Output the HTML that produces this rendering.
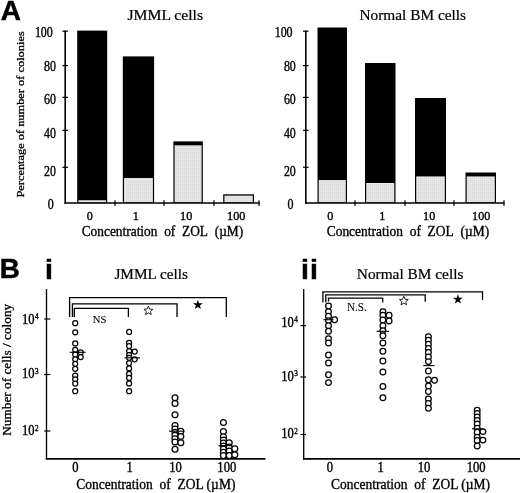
<!DOCTYPE html>
<html><head><meta charset="utf-8"><title>Figure</title>
<style>html,body{margin:0;padding:0;background:#fff;}svg{display:block;}</style></head><body>
<svg width="520" height="493" viewBox="0 0 520 493">
<defs><pattern id="dots" width="2" height="2" patternUnits="userSpaceOnUse"><rect width="2" height="2" fill="#e6e6e6"/><rect width="1" height="1" fill="#d6d6d6"/></pattern></defs>
<rect width="520" height="493" fill="#fff"/>
<text x="0.7" y="19.8" font-size="27.8" text-anchor="start" font-family='"Liberation Sans", sans-serif' font-weight="bold" textLength="20.2" lengthAdjust="spacingAndGlyphs" stroke="#000" stroke-width="0.5" >A</text>
<text transform="translate(23.7,197.6) rotate(-90)" font-size="11.3" font-family='"Liberation Serif", serif' textLength="166.3" lengthAdjust="spacingAndGlyphs" stroke="#000" stroke-width="0.3">Percentage of number of colonies</text>
<rect x="77.2" y="30.6" width="30.0" height="172.4" fill="#000"/>
<rect x="78.4" y="200.3" width="27.6" height="2.1" fill="#f4f4f4"/>
<rect x="122.8" y="56.4" width="31.3" height="146.6" fill="#000"/>
<rect x="124.0" y="178" width="28.9" height="24.4" fill="url(#dots)"/>
<rect x="173.4" y="141.4" width="29.4" height="61.6" fill="#000"/>
<rect x="174.6" y="145.3" width="27.0" height="57.1" fill="url(#dots)"/>
<rect x="223.2" y="194.3" width="30.8" height="8.7" fill="#000"/>
<rect x="224.4" y="195.6" width="28.4" height="6.8" fill="url(#dots)"/>
<line x1="65.2" y1="30.6" x2="65.2" y2="203.8" stroke="#000" stroke-width="1.6"/>
<line x1="64.4" y1="203" x2="259.8" y2="203" stroke="#000" stroke-width="1.7"/>
<line x1="62.400000000000006" y1="31.2" x2="68.0" y2="31.2" stroke="#000" stroke-width="1.2"/>
<line x1="62.400000000000006" y1="65.6" x2="68.0" y2="65.6" stroke="#000" stroke-width="1.2"/>
<line x1="62.400000000000006" y1="97.4" x2="68.0" y2="97.4" stroke="#000" stroke-width="1.2"/>
<line x1="62.400000000000006" y1="130.3" x2="68.0" y2="130.3" stroke="#000" stroke-width="1.2"/>
<line x1="62.400000000000006" y1="167.3" x2="68.0" y2="167.3" stroke="#000" stroke-width="1.2"/>
<line x1="115" y1="200.3" x2="115" y2="206" stroke="#000" stroke-width="1.2"/>
<line x1="164" y1="200.3" x2="164" y2="206" stroke="#000" stroke-width="1.2"/>
<line x1="214" y1="200.3" x2="214" y2="206" stroke="#000" stroke-width="1.2"/>
<line x1="259" y1="200.3" x2="259" y2="206" stroke="#000" stroke-width="1.2"/>
<text x="52.8" y="36.6" font-size="14" text-anchor="end" font-family='"Liberation Serif", serif' font-weight="normal" textLength="17.9" lengthAdjust="spacingAndGlyphs" stroke="#000" stroke-width="0.38" >100</text>
<text x="56.0" y="71.0" font-size="14" text-anchor="end" font-family='"Liberation Serif", serif' font-weight="normal" textLength="11.9" lengthAdjust="spacingAndGlyphs" stroke="#000" stroke-width="0.38" >80</text>
<text x="56.0" y="103.8" font-size="14" text-anchor="end" font-family='"Liberation Serif", serif' font-weight="normal" textLength="11.9" lengthAdjust="spacingAndGlyphs" stroke="#000" stroke-width="0.38" >60</text>
<text x="56.0" y="137.9" font-size="14" text-anchor="end" font-family='"Liberation Serif", serif' font-weight="normal" textLength="11.9" lengthAdjust="spacingAndGlyphs" stroke="#000" stroke-width="0.38" >40</text>
<text x="56.0" y="175.7" font-size="14" text-anchor="end" font-family='"Liberation Serif", serif' font-weight="normal" textLength="11.9" lengthAdjust="spacingAndGlyphs" stroke="#000" stroke-width="0.38" >20</text>
<text x="53.8" y="209.1" font-size="14" text-anchor="end" font-family='"Liberation Serif", serif' font-weight="normal" textLength="6.0" lengthAdjust="spacingAndGlyphs" stroke="#000" stroke-width="0.38" >0</text>
<text x="89.8" y="220.4" font-size="13.2" text-anchor="middle" font-family='"Liberation Serif", serif' font-weight="normal" textLength="6.1" lengthAdjust="spacingAndGlyphs" stroke="#000" stroke-width="0.38" >0</text>
<text x="135.7" y="220.4" font-size="13.2" text-anchor="middle" font-family='"Liberation Serif", serif' font-weight="normal" textLength="6.1" lengthAdjust="spacingAndGlyphs" stroke="#000" stroke-width="0.38" >1</text>
<text x="186.2" y="220.4" font-size="13.2" text-anchor="middle" font-family='"Liberation Serif", serif' font-weight="normal" textLength="12.2" lengthAdjust="spacingAndGlyphs" stroke="#000" stroke-width="0.38" >10</text>
<text x="236.2" y="220.4" font-size="13.2" text-anchor="middle" font-family='"Liberation Serif", serif' font-weight="normal" textLength="18.3" lengthAdjust="spacingAndGlyphs" stroke="#000" stroke-width="0.38" >100</text>
<text x="81.7" y="236.2" font-size="13.6" text-anchor="start" font-family='"Liberation Serif", serif' font-weight="normal" textLength="161.5" lengthAdjust="spacingAndGlyphs" stroke="#000" stroke-width="0.33" >Concentration&#160; of&#160; ZOL&#160; (µM)</text>
<text x="127.5" y="19.8" font-size="15.5" text-anchor="start" font-family='"Liberation Serif", serif' font-weight="normal" textLength="75.5" lengthAdjust="spacingAndGlyphs" stroke="#000" stroke-width="0.22" >JMML cells</text>
<rect x="317.5" y="27.5" width="29.5" height="175.5" fill="#000"/>
<rect x="318.7" y="180" width="27.1" height="22.4" fill="url(#dots)"/>
<rect x="365" y="63" width="30.5" height="140" fill="#000"/>
<rect x="366.2" y="183" width="28.1" height="19.4" fill="url(#dots)"/>
<rect x="415" y="98" width="31" height="105" fill="#000"/>
<rect x="416.2" y="176.4" width="28.6" height="26.0" fill="url(#dots)"/>
<rect x="465.5" y="172.5" width="30.5" height="30.5" fill="#000"/>
<rect x="466.7" y="176.4" width="28.1" height="26.0" fill="url(#dots)"/>
<line x1="305.8" y1="30.6" x2="305.8" y2="203.8" stroke="#000" stroke-width="1.6"/>
<line x1="305.0" y1="203" x2="504.5" y2="203" stroke="#000" stroke-width="1.7"/>
<line x1="303.0" y1="31.2" x2="308.6" y2="31.2" stroke="#000" stroke-width="1.2"/>
<line x1="303.0" y1="65.6" x2="308.6" y2="65.6" stroke="#000" stroke-width="1.2"/>
<line x1="303.0" y1="97.4" x2="308.6" y2="97.4" stroke="#000" stroke-width="1.2"/>
<line x1="303.0" y1="130.3" x2="308.6" y2="130.3" stroke="#000" stroke-width="1.2"/>
<line x1="303.0" y1="167.3" x2="308.6" y2="167.3" stroke="#000" stroke-width="1.2"/>
<line x1="355" y1="200.3" x2="355" y2="206" stroke="#000" stroke-width="1.2"/>
<line x1="405" y1="200.3" x2="405" y2="206" stroke="#000" stroke-width="1.2"/>
<line x1="454" y1="200.3" x2="454" y2="206" stroke="#000" stroke-width="1.2"/>
<line x1="504" y1="200.3" x2="504" y2="206" stroke="#000" stroke-width="1.2"/>
<text x="292.6" y="36.6" font-size="14" text-anchor="end" font-family='"Liberation Serif", serif' font-weight="normal" textLength="17.9" lengthAdjust="spacingAndGlyphs" stroke="#000" stroke-width="0.38" >100</text>
<text x="295.8" y="71.0" font-size="14" text-anchor="end" font-family='"Liberation Serif", serif' font-weight="normal" textLength="11.9" lengthAdjust="spacingAndGlyphs" stroke="#000" stroke-width="0.38" >80</text>
<text x="295.8" y="103.8" font-size="14" text-anchor="end" font-family='"Liberation Serif", serif' font-weight="normal" textLength="11.9" lengthAdjust="spacingAndGlyphs" stroke="#000" stroke-width="0.38" >60</text>
<text x="295.8" y="137.9" font-size="14" text-anchor="end" font-family='"Liberation Serif", serif' font-weight="normal" textLength="11.9" lengthAdjust="spacingAndGlyphs" stroke="#000" stroke-width="0.38" >40</text>
<text x="295.8" y="175.7" font-size="14" text-anchor="end" font-family='"Liberation Serif", serif' font-weight="normal" textLength="11.9" lengthAdjust="spacingAndGlyphs" stroke="#000" stroke-width="0.38" >20</text>
<text x="293.6" y="209.1" font-size="14" text-anchor="end" font-family='"Liberation Serif", serif' font-weight="normal" textLength="6.0" lengthAdjust="spacingAndGlyphs" stroke="#000" stroke-width="0.38" >0</text>
<text x="330.2" y="220.4" font-size="13.2" text-anchor="middle" font-family='"Liberation Serif", serif' font-weight="normal" textLength="6.1" lengthAdjust="spacingAndGlyphs" stroke="#000" stroke-width="0.38" >0</text>
<text x="382.2" y="220.4" font-size="13.2" text-anchor="middle" font-family='"Liberation Serif", serif' font-weight="normal" textLength="6.1" lengthAdjust="spacingAndGlyphs" stroke="#000" stroke-width="0.38" >1</text>
<text x="429.2" y="220.4" font-size="13.2" text-anchor="middle" font-family='"Liberation Serif", serif' font-weight="normal" textLength="12.2" lengthAdjust="spacingAndGlyphs" stroke="#000" stroke-width="0.38" >10</text>
<text x="481.2" y="220.4" font-size="13.2" text-anchor="middle" font-family='"Liberation Serif", serif' font-weight="normal" textLength="18.3" lengthAdjust="spacingAndGlyphs" stroke="#000" stroke-width="0.38" >100</text>
<text x="326.7" y="236.2" font-size="13.6" text-anchor="start" font-family='"Liberation Serif", serif' font-weight="normal" textLength="162.5" lengthAdjust="spacingAndGlyphs" stroke="#000" stroke-width="0.33" >Concentration&#160; of&#160; ZOL&#160; (µM)</text>
<text x="359.5" y="19.8" font-size="15.5" text-anchor="start" font-family='"Liberation Serif", serif' font-weight="normal" textLength="106.5" lengthAdjust="spacingAndGlyphs" stroke="#000" stroke-width="0.22" >Normal BM cells</text>
<text x="-0.2" y="278" font-size="27.8" text-anchor="start" font-family='"Liberation Sans", sans-serif' font-weight="bold" stroke="#000" stroke-width="0.5" >B</text>
<text x="44.9" y="278.7" font-size="28.5" text-anchor="start" font-family='"Liberation Sans", sans-serif' font-weight="bold" stroke="#000" stroke-width="0.5" >i</text>
<text x="301.1" y="278.7" font-size="28.5" text-anchor="start" font-family='"Liberation Sans", sans-serif' font-weight="bold" stroke="#000" stroke-width="0.5" letter-spacing="1.0">ii</text>
<text transform="translate(10.6,435.8) rotate(-90)" font-size="12" font-family='"Liberation Serif", serif' textLength="132" lengthAdjust="spacingAndGlyphs" stroke="#000" stroke-width="0.3">Number of cells / colony</text>
<line x1="46.5" y1="289" x2="46.5" y2="459.6" stroke="#000" stroke-width="1.35"/>
<line x1="45.8" y1="458.8" x2="265.5" y2="458.8" stroke="#000" stroke-width="1.7"/>
<line x1="44.2" y1="319" x2="50.3" y2="319" stroke="#000" stroke-width="1.2"/>
<line x1="44.2" y1="374.5" x2="50.3" y2="374.5" stroke="#000" stroke-width="1.2"/>
<line x1="44.2" y1="431" x2="50.3" y2="431" stroke="#000" stroke-width="1.2"/>
<text x="34.6" y="323.6" font-size="14" text-anchor="end" font-family='"Liberation Serif", serif' font-weight="normal" textLength="12.6" lengthAdjust="spacingAndGlyphs" stroke="#000" stroke-width="0.38" >10</text>
<text x="34.900000000000006" y="319.3" font-size="8.6" text-anchor="start" font-family='"Liberation Serif", serif' font-weight="normal" textLength="3.6" lengthAdjust="spacingAndGlyphs" stroke="#000" stroke-width="0.38" >4</text>
<text x="34.6" y="378.1" font-size="14" text-anchor="end" font-family='"Liberation Serif", serif' font-weight="normal" textLength="12.6" lengthAdjust="spacingAndGlyphs" stroke="#000" stroke-width="0.38" >10</text>
<text x="34.900000000000006" y="373.8" font-size="8.6" text-anchor="start" font-family='"Liberation Serif", serif' font-weight="normal" textLength="3.6" lengthAdjust="spacingAndGlyphs" stroke="#000" stroke-width="0.38" >3</text>
<text x="34.6" y="435.3" font-size="14" text-anchor="end" font-family='"Liberation Serif", serif' font-weight="normal" textLength="12.6" lengthAdjust="spacingAndGlyphs" stroke="#000" stroke-width="0.38" >10</text>
<text x="34.900000000000006" y="431.0" font-size="8.6" text-anchor="start" font-family='"Liberation Serif", serif' font-weight="normal" textLength="3.6" lengthAdjust="spacingAndGlyphs" stroke="#000" stroke-width="0.38" >2</text>
<text x="75.3" y="472.2" font-size="14" text-anchor="middle" font-family='"Liberation Serif", serif' font-weight="normal" textLength="6.3" lengthAdjust="spacingAndGlyphs" stroke="#000" stroke-width="0.38" >0</text>
<text x="129.6" y="472.2" font-size="14" text-anchor="middle" font-family='"Liberation Serif", serif' font-weight="normal" textLength="6.3" lengthAdjust="spacingAndGlyphs" stroke="#000" stroke-width="0.38" >1</text>
<text x="175.5" y="472.2" font-size="14" text-anchor="middle" font-family='"Liberation Serif", serif' font-weight="normal" textLength="12.6" lengthAdjust="spacingAndGlyphs" stroke="#000" stroke-width="0.38" >10</text>
<text x="226.8" y="472.2" font-size="14" text-anchor="middle" font-family='"Liberation Serif", serif' font-weight="normal" textLength="18.9" lengthAdjust="spacingAndGlyphs" stroke="#000" stroke-width="0.38" >100</text>
<text x="76.2" y="488.8" font-size="13.6" text-anchor="start" font-family='"Liberation Serif", serif' font-weight="normal" textLength="159.2" lengthAdjust="spacingAndGlyphs" stroke="#000" stroke-width="0.33" >Concentration&#160; of&#160; ZOL (µM)</text>
<text x="114.4" y="278.7" font-size="15.5" text-anchor="start" font-family='"Liberation Serif", serif' font-weight="normal" textLength="73.6" lengthAdjust="spacingAndGlyphs" stroke="#000" stroke-width="0.22" >JMML cells</text>
<polyline points="69.6,317 69.6,297.7 226.3,297.7 226.3,317" fill="none" stroke="#000" stroke-width="1.3"/>
<polyline points="72.4,317 72.4,303.8 177,303.8 177,317" fill="none" stroke="#000" stroke-width="1.3"/>
<polyline points="74.3,317 74.3,308.4 128.4,308.4 128.4,317" fill="none" stroke="#000" stroke-width="1.3"/>
<text x="99.6" y="322.5" font-size="11" text-anchor="middle" font-family='"Liberation Serif", serif' font-weight="normal" textLength="13.6" lengthAdjust="spacingAndGlyphs" stroke="#000" stroke-width="0.1" >NS</text>
<polygon points="148.40,306.10 149.67,309.05 152.87,309.35 150.46,311.47 151.16,314.60 148.40,312.96 145.64,314.60 146.34,311.47 143.93,309.35 147.13,309.05" fill="#fff" stroke="#000" stroke-width="0.85"/>
<polygon points="197.90,299.70 199.12,303.22 202.85,303.29 199.88,305.54 200.96,309.11 197.90,306.98 194.84,309.11 195.92,305.54 192.95,303.29 196.68,303.22" fill="#000"/>
<circle cx="75.2" cy="323.2" r="2.5" fill="#fff" stroke="#000" stroke-width="1.25"/>
<circle cx="75.2" cy="332.3" r="2.5" fill="#fff" stroke="#000" stroke-width="1.25"/>
<circle cx="75.2" cy="343.4" r="2.5" fill="#fff" stroke="#000" stroke-width="1.25"/>
<circle cx="75.2" cy="349.8" r="2.5" fill="#fff" stroke="#000" stroke-width="1.25"/>
<circle cx="75.2" cy="354.7" r="2.5" fill="#fff" stroke="#000" stroke-width="1.25"/>
<circle cx="75.2" cy="359.3" r="2.5" fill="#fff" stroke="#000" stroke-width="1.25"/>
<circle cx="75.2" cy="363.8" r="2.5" fill="#fff" stroke="#000" stroke-width="1.25"/>
<circle cx="75.2" cy="368.8" r="2.5" fill="#fff" stroke="#000" stroke-width="1.25"/>
<circle cx="75.2" cy="375.7" r="2.5" fill="#fff" stroke="#000" stroke-width="1.25"/>
<circle cx="75.2" cy="379.3" r="2.5" fill="#fff" stroke="#000" stroke-width="1.25"/>
<circle cx="75.2" cy="383.5" r="2.5" fill="#fff" stroke="#000" stroke-width="1.25"/>
<circle cx="75.2" cy="391.2" r="2.5" fill="#fff" stroke="#000" stroke-width="1.25"/>
<circle cx="80.7" cy="352.3" r="2.5" fill="#fff" stroke="#000" stroke-width="1.25"/>
<circle cx="80.7" cy="357" r="2.5" fill="#fff" stroke="#000" stroke-width="1.25"/>
<circle cx="129.1" cy="331.9" r="2.5" fill="#fff" stroke="#000" stroke-width="1.25"/>
<circle cx="129.1" cy="342.8" r="2.5" fill="#fff" stroke="#000" stroke-width="1.25"/>
<circle cx="129.1" cy="346" r="2.5" fill="#fff" stroke="#000" stroke-width="1.25"/>
<circle cx="129.1" cy="351" r="2.5" fill="#fff" stroke="#000" stroke-width="1.25"/>
<circle cx="129.1" cy="355" r="2.5" fill="#fff" stroke="#000" stroke-width="1.25"/>
<circle cx="129.1" cy="357.8" r="2.5" fill="#fff" stroke="#000" stroke-width="1.25"/>
<circle cx="129.1" cy="363" r="2.5" fill="#fff" stroke="#000" stroke-width="1.25"/>
<circle cx="129.1" cy="368.4" r="2.5" fill="#fff" stroke="#000" stroke-width="1.25"/>
<circle cx="129.1" cy="373.9" r="2.5" fill="#fff" stroke="#000" stroke-width="1.25"/>
<circle cx="129.1" cy="377.9" r="2.5" fill="#fff" stroke="#000" stroke-width="1.25"/>
<circle cx="129.1" cy="383.4" r="2.5" fill="#fff" stroke="#000" stroke-width="1.25"/>
<circle cx="129.1" cy="391.2" r="2.5" fill="#fff" stroke="#000" stroke-width="1.25"/>
<circle cx="134.7" cy="351.6" r="2.5" fill="#fff" stroke="#000" stroke-width="1.25"/>
<circle cx="134.7" cy="359.3" r="2.5" fill="#fff" stroke="#000" stroke-width="1.25"/>
<circle cx="175" cy="397.8" r="2.95" fill="#fff" stroke="#000" stroke-width="1.25"/>
<circle cx="175" cy="403.5" r="2.95" fill="#fff" stroke="#000" stroke-width="1.25"/>
<circle cx="175" cy="414.7" r="2.95" fill="#fff" stroke="#000" stroke-width="1.25"/>
<circle cx="175" cy="425.5" r="2.95" fill="#fff" stroke="#000" stroke-width="1.25"/>
<circle cx="175" cy="429" r="2.95" fill="#fff" stroke="#000" stroke-width="1.25"/>
<circle cx="175" cy="432.2" r="2.95" fill="#fff" stroke="#000" stroke-width="1.25"/>
<circle cx="175" cy="435.4" r="2.95" fill="#fff" stroke="#000" stroke-width="1.25"/>
<circle cx="175" cy="438.8" r="2.95" fill="#fff" stroke="#000" stroke-width="1.25"/>
<circle cx="175" cy="442" r="2.95" fill="#fff" stroke="#000" stroke-width="1.25"/>
<circle cx="175" cy="449.2" r="2.95" fill="#fff" stroke="#000" stroke-width="1.25"/>
<circle cx="180.8" cy="431.2" r="2.95" fill="#fff" stroke="#000" stroke-width="1.25"/>
<circle cx="180.8" cy="436.5" r="2.95" fill="#fff" stroke="#000" stroke-width="1.25"/>
<circle cx="180.8" cy="442.8" r="2.95" fill="#fff" stroke="#000" stroke-width="1.25"/>
<circle cx="223.4" cy="422.5" r="2.95" fill="#fff" stroke="#000" stroke-width="1.25"/>
<circle cx="223.4" cy="431.5" r="2.95" fill="#fff" stroke="#000" stroke-width="1.25"/>
<circle cx="223.4" cy="436.7" r="2.95" fill="#fff" stroke="#000" stroke-width="1.25"/>
<circle cx="223.4" cy="440" r="2.95" fill="#fff" stroke="#000" stroke-width="1.25"/>
<circle cx="223.4" cy="443" r="2.95" fill="#fff" stroke="#000" stroke-width="1.25"/>
<circle cx="223.4" cy="446" r="2.95" fill="#fff" stroke="#000" stroke-width="1.25"/>
<circle cx="223.4" cy="449" r="2.95" fill="#fff" stroke="#000" stroke-width="1.25"/>
<circle cx="223.4" cy="452.4" r="2.95" fill="#fff" stroke="#000" stroke-width="1.25"/>
<circle cx="223.4" cy="455.6" r="2.95" fill="#fff" stroke="#000" stroke-width="1.25"/>
<circle cx="229.2" cy="442.8" r="2.95" fill="#fff" stroke="#000" stroke-width="1.25"/>
<circle cx="229.2" cy="447" r="2.95" fill="#fff" stroke="#000" stroke-width="1.25"/>
<circle cx="229.2" cy="451" r="2.95" fill="#fff" stroke="#000" stroke-width="1.25"/>
<circle cx="229.2" cy="455.6" r="2.95" fill="#fff" stroke="#000" stroke-width="1.25"/>
<circle cx="234.8" cy="448.8" r="2.95" fill="#fff" stroke="#000" stroke-width="1.25"/>
<circle cx="234.8" cy="454.8" r="2.95" fill="#fff" stroke="#000" stroke-width="1.25"/>
<line x1="69.7" y1="352.3" x2="85.6" y2="352.3" stroke="#000" stroke-width="1.1"/>
<line x1="124.6" y1="357.8" x2="140" y2="357.8" stroke="#000" stroke-width="1.1"/>
<line x1="169" y1="431.2" x2="184.5" y2="431.2" stroke="#000" stroke-width="1.1"/>
<line x1="218.5" y1="445.6" x2="232" y2="445.6" stroke="#000" stroke-width="1.1"/>
<line x1="303.7" y1="289" x2="303.7" y2="459.6" stroke="#000" stroke-width="1.35"/>
<line x1="303.0" y1="458.8" x2="520" y2="458.8" stroke="#000" stroke-width="1.7"/>
<line x1="300.4" y1="325.7" x2="306.0" y2="325.7" stroke="#000" stroke-width="1.2"/>
<line x1="300.4" y1="377" x2="306.0" y2="377" stroke="#000" stroke-width="1.2"/>
<line x1="300.4" y1="434.5" x2="306.0" y2="434.5" stroke="#000" stroke-width="1.2"/>
<text x="293.9" y="326.6" font-size="14" text-anchor="end" font-family='"Liberation Serif", serif' font-weight="normal" textLength="12.6" lengthAdjust="spacingAndGlyphs" stroke="#000" stroke-width="0.38" >10</text>
<text x="294.2" y="322.3" font-size="8.6" text-anchor="start" font-family='"Liberation Serif", serif' font-weight="normal" textLength="3.6" lengthAdjust="spacingAndGlyphs" stroke="#000" stroke-width="0.38" >4</text>
<text x="293.9" y="380.6" font-size="14" text-anchor="end" font-family='"Liberation Serif", serif' font-weight="normal" textLength="12.6" lengthAdjust="spacingAndGlyphs" stroke="#000" stroke-width="0.38" >10</text>
<text x="294.2" y="376.3" font-size="8.6" text-anchor="start" font-family='"Liberation Serif", serif' font-weight="normal" textLength="3.6" lengthAdjust="spacingAndGlyphs" stroke="#000" stroke-width="0.38" >3</text>
<text x="293.9" y="438.1" font-size="14" text-anchor="end" font-family='"Liberation Serif", serif' font-weight="normal" textLength="12.6" lengthAdjust="spacingAndGlyphs" stroke="#000" stroke-width="0.38" >10</text>
<text x="294.2" y="433.8" font-size="8.6" text-anchor="start" font-family='"Liberation Serif", serif' font-weight="normal" textLength="3.6" lengthAdjust="spacingAndGlyphs" stroke="#000" stroke-width="0.38" >2</text>
<text x="330" y="472.2" font-size="14" text-anchor="middle" font-family='"Liberation Serif", serif' font-weight="normal" textLength="6.3" lengthAdjust="spacingAndGlyphs" stroke="#000" stroke-width="0.38" >0</text>
<text x="380.7" y="472.2" font-size="14" text-anchor="middle" font-family='"Liberation Serif", serif' font-weight="normal" textLength="6.3" lengthAdjust="spacingAndGlyphs" stroke="#000" stroke-width="0.38" >1</text>
<text x="424" y="472.2" font-size="14" text-anchor="middle" font-family='"Liberation Serif", serif' font-weight="normal" textLength="12.6" lengthAdjust="spacingAndGlyphs" stroke="#000" stroke-width="0.38" >10</text>
<text x="476.2" y="472.2" font-size="14" text-anchor="middle" font-family='"Liberation Serif", serif' font-weight="normal" textLength="18.9" lengthAdjust="spacingAndGlyphs" stroke="#000" stroke-width="0.38" >100</text>
<text x="331" y="488.8" font-size="13.6" text-anchor="start" font-family='"Liberation Serif", serif' font-weight="normal" textLength="159" lengthAdjust="spacingAndGlyphs" stroke="#000" stroke-width="0.33" >Concentration&#160; of&#160; ZOL (µM)</text>
<text x="356.8" y="278.7" font-size="15.5" text-anchor="start" font-family='"Liberation Serif", serif' font-weight="normal" textLength="106.6" lengthAdjust="spacingAndGlyphs" stroke="#000" stroke-width="0.22" >Normal BM cells</text>
<polyline points="322.9,302.5 322.9,291.9 482.5,291.9 482.5,300" fill="none" stroke="#000" stroke-width="1.3"/>
<polyline points="325.8,302.5 325.8,294.9 425.2,294.9 425.2,301.8" fill="none" stroke="#000" stroke-width="1.3"/>
<polyline points="328.5,301.5 328.5,298.1 382.7,298.1 382.7,302.6" fill="none" stroke="#000" stroke-width="1.3"/>
<text x="356.8" y="310.8" font-size="11.6" text-anchor="middle" font-family='"Liberation Serif", serif' font-weight="normal" textLength="19.8" lengthAdjust="spacingAndGlyphs" stroke="#000" stroke-width="0.1" >N.S.</text>
<polygon points="403.80,296.30 405.07,299.25 408.27,299.55 405.86,301.67 406.56,304.80 403.80,303.16 401.04,304.80 401.74,301.67 399.33,299.55 402.53,299.25" fill="#fff" stroke="#000" stroke-width="0.85"/>
<polygon points="457.90,294.20 459.12,297.72 462.85,297.79 459.88,300.04 460.96,303.61 457.90,301.48 454.84,303.61 455.92,300.04 452.95,297.79 456.68,297.72" fill="#000"/>
<circle cx="328.5" cy="306" r="2.85" fill="#fff" stroke="#000" stroke-width="1.25"/>
<circle cx="328.5" cy="311.6" r="2.85" fill="#fff" stroke="#000" stroke-width="1.25"/>
<circle cx="328.5" cy="316.3" r="2.85" fill="#fff" stroke="#000" stroke-width="1.25"/>
<circle cx="328.5" cy="320.6" r="2.85" fill="#fff" stroke="#000" stroke-width="1.25"/>
<circle cx="328.5" cy="325.7" r="2.85" fill="#fff" stroke="#000" stroke-width="1.25"/>
<circle cx="328.5" cy="331.3" r="2.85" fill="#fff" stroke="#000" stroke-width="1.25"/>
<circle cx="328.5" cy="338.6" r="2.85" fill="#fff" stroke="#000" stroke-width="1.25"/>
<circle cx="328.5" cy="343" r="2.85" fill="#fff" stroke="#000" stroke-width="1.25"/>
<circle cx="328.5" cy="355" r="2.85" fill="#fff" stroke="#000" stroke-width="1.25"/>
<circle cx="328.5" cy="363" r="2.85" fill="#fff" stroke="#000" stroke-width="1.25"/>
<circle cx="328.5" cy="374.8" r="2.85" fill="#fff" stroke="#000" stroke-width="1.25"/>
<circle cx="328.5" cy="382.6" r="2.85" fill="#fff" stroke="#000" stroke-width="1.25"/>
<circle cx="334.6" cy="319.7" r="2.85" fill="#fff" stroke="#000" stroke-width="1.25"/>
<circle cx="382.9" cy="311.6" r="2.85" fill="#fff" stroke="#000" stroke-width="1.25"/>
<circle cx="382.9" cy="315.2" r="2.85" fill="#fff" stroke="#000" stroke-width="1.25"/>
<circle cx="382.9" cy="320" r="2.85" fill="#fff" stroke="#000" stroke-width="1.25"/>
<circle cx="382.9" cy="325.7" r="2.85" fill="#fff" stroke="#000" stroke-width="1.25"/>
<circle cx="382.9" cy="330.8" r="2.85" fill="#fff" stroke="#000" stroke-width="1.25"/>
<circle cx="382.9" cy="335.7" r="2.85" fill="#fff" stroke="#000" stroke-width="1.25"/>
<circle cx="382.9" cy="343" r="2.85" fill="#fff" stroke="#000" stroke-width="1.25"/>
<circle cx="382.9" cy="351.3" r="2.85" fill="#fff" stroke="#000" stroke-width="1.25"/>
<circle cx="382.9" cy="361" r="2.85" fill="#fff" stroke="#000" stroke-width="1.25"/>
<circle cx="382.9" cy="372" r="2.85" fill="#fff" stroke="#000" stroke-width="1.25"/>
<circle cx="382.9" cy="386.4" r="2.85" fill="#fff" stroke="#000" stroke-width="1.25"/>
<circle cx="382.9" cy="397.7" r="2.85" fill="#fff" stroke="#000" stroke-width="1.25"/>
<circle cx="389.1" cy="315.2" r="2.85" fill="#fff" stroke="#000" stroke-width="1.25"/>
<circle cx="389.1" cy="321" r="2.85" fill="#fff" stroke="#000" stroke-width="1.25"/>
<circle cx="428.4" cy="336.6" r="2.85" fill="#fff" stroke="#000" stroke-width="1.25"/>
<circle cx="428.4" cy="340.3" r="2.85" fill="#fff" stroke="#000" stroke-width="1.25"/>
<circle cx="428.4" cy="344.3" r="2.85" fill="#fff" stroke="#000" stroke-width="1.25"/>
<circle cx="428.4" cy="348.4" r="2.85" fill="#fff" stroke="#000" stroke-width="1.25"/>
<circle cx="428.4" cy="352.4" r="2.85" fill="#fff" stroke="#000" stroke-width="1.25"/>
<circle cx="428.4" cy="356.9" r="2.85" fill="#fff" stroke="#000" stroke-width="1.25"/>
<circle cx="428.4" cy="361.6" r="2.85" fill="#fff" stroke="#000" stroke-width="1.25"/>
<circle cx="428.4" cy="371" r="2.85" fill="#fff" stroke="#000" stroke-width="1.25"/>
<circle cx="428.4" cy="379.8" r="2.85" fill="#fff" stroke="#000" stroke-width="1.25"/>
<circle cx="428.4" cy="385.9" r="2.85" fill="#fff" stroke="#000" stroke-width="1.25"/>
<circle cx="428.4" cy="391.4" r="2.85" fill="#fff" stroke="#000" stroke-width="1.25"/>
<circle cx="428.4" cy="399" r="2.85" fill="#fff" stroke="#000" stroke-width="1.25"/>
<circle cx="428.4" cy="403.5" r="2.85" fill="#fff" stroke="#000" stroke-width="1.25"/>
<circle cx="428.4" cy="408.2" r="2.85" fill="#fff" stroke="#000" stroke-width="1.25"/>
<circle cx="434.5" cy="380.2" r="2.85" fill="#fff" stroke="#000" stroke-width="1.25"/>
<circle cx="477.2" cy="410.3" r="2.85" fill="#fff" stroke="#000" stroke-width="1.25"/>
<circle cx="477.2" cy="413.4" r="2.85" fill="#fff" stroke="#000" stroke-width="1.25"/>
<circle cx="477.2" cy="417" r="2.85" fill="#fff" stroke="#000" stroke-width="1.25"/>
<circle cx="477.2" cy="420.5" r="2.85" fill="#fff" stroke="#000" stroke-width="1.25"/>
<circle cx="477.2" cy="424" r="2.85" fill="#fff" stroke="#000" stroke-width="1.25"/>
<circle cx="477.2" cy="428.3" r="2.85" fill="#fff" stroke="#000" stroke-width="1.25"/>
<circle cx="477.2" cy="432.2" r="2.85" fill="#fff" stroke="#000" stroke-width="1.25"/>
<circle cx="477.2" cy="437.3" r="2.85" fill="#fff" stroke="#000" stroke-width="1.25"/>
<circle cx="477.2" cy="440.4" r="2.85" fill="#fff" stroke="#000" stroke-width="1.25"/>
<circle cx="477.2" cy="446" r="2.85" fill="#fff" stroke="#000" stroke-width="1.25"/>
<circle cx="482.9" cy="431.6" r="2.85" fill="#fff" stroke="#000" stroke-width="1.25"/>
<circle cx="482.9" cy="440.1" r="2.85" fill="#fff" stroke="#000" stroke-width="1.25"/>
<line x1="323.4" y1="319.7" x2="333.5" y2="319.7" stroke="#000" stroke-width="1.1"/>
<line x1="376.6" y1="331.3" x2="389" y2="331.3" stroke="#000" stroke-width="1.1"/>
<line x1="423.3" y1="365.6" x2="434.5" y2="365.6" stroke="#000" stroke-width="1.1"/>
<line x1="472" y1="428.8" x2="483.3" y2="428.8" stroke="#000" stroke-width="1.1"/>
</svg></body></html>
